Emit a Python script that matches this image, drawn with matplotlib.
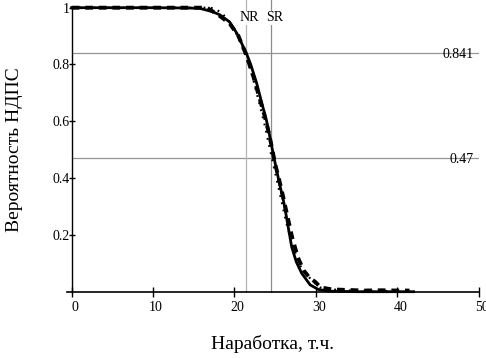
import matplotlib
matplotlib.use("Agg")
import matplotlib.pyplot as plt
import matplotlib.transforms as mtrans

plt.rcParams["font.family"] = ["Liberation Serif", "DejaVu Serif"]

# fitted curve (solid)
x_fit = [0, 10, 14, 15.7, 17.3, 18.2, 19.4, 20.3, 21.08, 21.45, 22.0, 22.73, 23.4, 23.96,
         24.15, 24.85, 25.5, 26.0, 26.2, 27.03, 27.6, 28.26, 29.3, 30.3, 31.5, 35, 42]
y_fit = [1, 1, 0.999, 0.998, 0.986, 0.975, 0.95, 0.91, 0.863, 0.841, 0.80, 0.734, 0.66, 0.60,
         0.575, 0.473, 0.385, 0.323, 0.294, 0.158, 0.105, 0.065, 0.024, 0.008, 0.002, 0.0, 0.0]

# data (dashed)
x_dash = [0, 5, 10, 15, 16.6, 18, 19.4, 20.5, 21.5, 22.3, 23.0, 23.7, 24.3, 25.0, 25.7, 26.4,
          27.1, 27.8, 28.5, 29.2, 29.9, 30.6, 32, 34, 36, 38, 40, 41.5]
y_dash = [1, 1, 1, 1, 1.0, 0.975, 0.945, 0.90, 0.83, 0.76, 0.69, 0.62, 0.55, 0.45, 0.37, 0.28,
          0.19, 0.12, 0.075, 0.05, 0.035, 0.015, 0.008, 0.006, 0.004, 0.005, 0.004, 0.004]

# second estimate (dotted)
x_dot = [0, 10, 15, 17, 17.7, 18.5, 19.5, 20.5, 21.3, 22.2, 23.0, 23.7, 24.3, 25.0, 25.7, 26.4,
         27.2, 28.0, 28.6, 29.5, 30.5, 31.5, 33, 36, 40]
y_dot = [1, 1, 1, 1, 0.995, 0.98, 0.945, 0.895, 0.84, 0.76, 0.67, 0.59, 0.51, 0.42, 0.33, 0.24,
         0.16, 0.095, 0.07, 0.04, 0.015, 0.01, 0.005, 0.003, 0.002]

h_levels = [0.841, 0.47]
h_labels = ["0.841", "0.47"]
v_marks = [21.4, 24.45]
v_labels = ["NR", "SR"]
v_colors = ["#b4b4b4", "#8c8c8c"]

fig = plt.figure(figsize=(4.86, 3.58), dpi=100)
left = 66.7 / 486
ax = fig.add_axes([left, 1 - 291.7 / 358, (478.7 - 66.7) / 486, (291.7 - 7.7) / 358])
ax.set_xlim(-0.6, 50)
ax.set_ylim(0, 1)

# guide lines
for h, lab in zip(h_levels, h_labels):
    ax.plot([0, 50], [h, h], color="#969696", lw=0.9, zorder=1)
    ax.text(49.4, h - 0.005, lab, ha="right", va="center", fontsize=10)
for v, lab, c in zip(v_marks, v_labels, v_colors):
    ax.plot([v, v], [0, 1.03], color=c, lw=0.9, zorder=1, clip_on=False)
    ax.text(v + 0.45, 0.964, lab, ha="center", va="center", fontsize=10,
            bbox=dict(facecolor="white", edgecolor="none", pad=0.3))

ax.plot(x_dash, y_dash, color="black", lw=2.8, ls=(0, (2.0, 1.5)), clip_on=False, zorder=3)
ax.plot(x_dot, y_dot, color="black", lw=1.6, ls=(0, (0.8, 2.5)), clip_on=False, zorder=3)
ax.plot(x_fit, y_fit, color="black", lw=2.0, clip_on=False, zorder=4)

ax.spines["top"].set_visible(False)
ax.spines["right"].set_visible(False)
ax.spines["left"].set_position(("data", 0))
ax.spines["left"].set_linewidth(1.0)
ax.spines["bottom"].set_linewidth(1.2)

ax.set_xticks([0, 10, 20, 30, 40, 50])
ax.set_xticklabels(["0", "10", "20", "30", "40", "50"])
ax.set_yticks([0.2, 0.4, 0.6, 0.8, 1.0])
ax.set_yticklabels(["0.2", "0.4", "0.6", "0.8", "1"])
ax.tick_params(axis="x", direction="inout", length=7, width=1, labelsize=10, pad=3)
ax.tick_params(axis="y", direction="inout", length=4.5, width=1, labelsize=10, pad=-1)

shift = mtrans.ScaledTranslation(3 / 100, 0, fig.dpi_scale_trans)
for lbl in ax.get_xticklabels():
    lbl.set_transform(lbl.get_transform() + shift)

fig.text(15 / 486, 1 - 150 / 358, "Вероятность НДПС", rotation=90, ha="center", va="center", fontsize=14)
fig.text(272 / 486, 1 - 344 / 358, "Наработка, т.ч.", ha="center", va="center", fontsize=14)

fig.savefig("out.png", dpi=100)
